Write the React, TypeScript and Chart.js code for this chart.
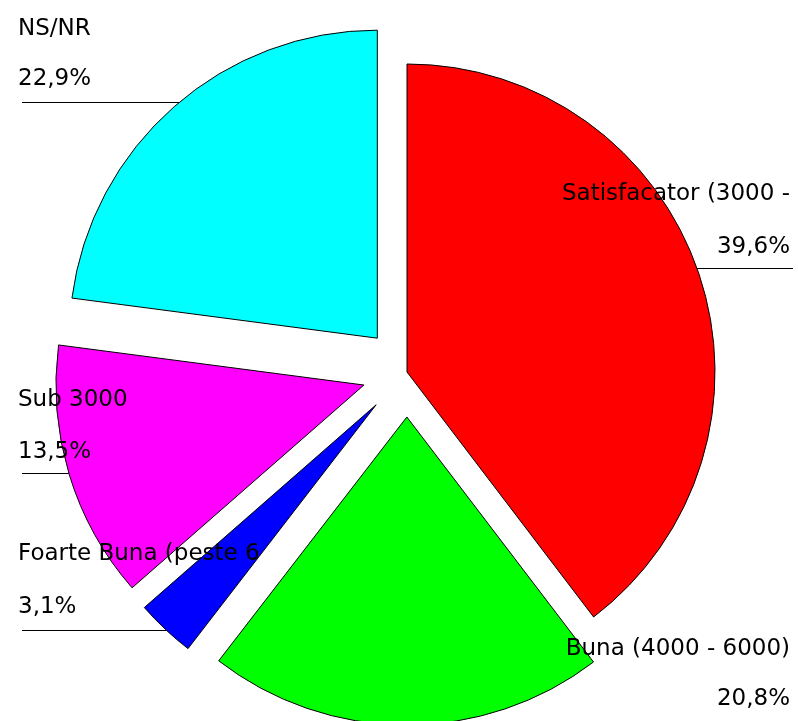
import { useEffect, useRef } from 'react';
import { Chart, registerables } from 'chart.js';

Chart.register(...registerables);

// ---- data ----
const categories = [
  'Satisfacator (3000 -',
  'Buna (4000 - 6000)',
  'Foarte Buna (peste 6',
  'Sub 3000',
  'NS/NR',
];
const shares = [39.6, 20.8, 3.1, 13.5, 22.9];

// ---- styles / layout ----
const sliceColors = ['#FF0000', '#00FF00', '#0000FF', '#FF00FF', '#00FFFF'];
const explodeDistance = [0, 45, 45, 45, 45];
const pieRadius = 308;
const labelLayout = [
  { side: 'right', x: 790, nameY: 200, pctY: 253, lineY: 268 },
  { side: 'right', x: 790, nameY: 655, pctY: 705, lineY: 722 },
  { side: 'left', x: 18, nameY: 560, pctY: 613, lineY: 630 },
  { side: 'left', x: 18, nameY: 406, pctY: 458, lineY: 473 },
  { side: 'left', x: 18, nameY: 35, pctY: 85, lineY: 102 },
];
const FONT = '23px "DejaVu Sans", Verdana, sans-serif';

const fmtPct = (v: number) => v.toFixed(1).replace('.', ',') + '%';

const explodePlugin = {
  id: 'explodeSlices',
  afterDatasetUpdate(chart: any, args: any) {
    const meta = args.meta;
    meta.data.forEach((el: any, i: number) => {
      const d = explodeDistance[i] || 0;
      const mid = (el.startAngle + el.endAngle) / 2;
      el.x += Math.cos(mid) * d;
      el.y += Math.sin(mid) * d;
    });
  },
};

const labelPlugin = {
  id: 'sliceLabels',
  afterDatasetsDraw(chart: any) {
    const ctx = chart.ctx;
    const meta = chart.getDatasetMeta(0);
    ctx.save();
    ctx.font = FONT;
    ctx.fillStyle = '#000';
    ctx.textBaseline = 'alphabetic';
    meta.data.forEach((el: any, i: number) => {
      const lay = labelLayout[i];
      if (!lay) return;
      const R = el.outerRadius;
      const dy = lay.lineY - el.y;
      let edgeX: number;
      if (Math.abs(dy) < R) {
        const dx = Math.sqrt(R * R - dy * dy);
        edgeX = lay.side === 'left' ? el.x - dx : el.x + dx;
      } else {
        edgeX = el.x;
      }
      ctx.strokeStyle = '#000';
      ctx.lineWidth = 1;
      ctx.beginPath();
      if (lay.side === 'left') {
        ctx.moveTo(lay.x + 4, lay.lineY + 0.5);
        ctx.lineTo(edgeX, lay.lineY + 0.5);
      } else {
        ctx.moveTo(edgeX, lay.lineY + 0.5);
        ctx.lineTo(lay.x + 3, lay.lineY + 0.5);
      }
      ctx.stroke();
      ctx.textAlign = lay.side === 'left' ? 'left' : 'right';
      ctx.fillText(chart.data.labels[i], lay.x, lay.nameY);
      ctx.fillText(fmtPct(chart.data.datasets[0].data[i]), lay.x, lay.pctY);
    });
    ctx.restore();
  },
};

export default function App() {
  const canvasRef = useRef<HTMLCanvasElement | null>(null);

  useEffect(() => {
    if (!canvasRef.current) return;
    const chart = new Chart(canvasRef.current, {
      type: 'pie',
      data: {
        labels: categories,
        datasets: [
          {
            data: shares,
            backgroundColor: sliceColors,
            borderColor: '#000000',
            borderWidth: 1,
            clip: false,
          } as any,
        ],
      },
      options: {
        animation: false,
        responsive: true,
        maintainAspectRatio: false,
        radius: pieRadius,
        layout: { padding: { left: 16, top: 23, right: 0, bottom: 0 } },
        plugins: {
          legend: { display: false },
          tooltip: { enabled: false },
        },
        events: [],
      } as any,
      plugins: [explodePlugin, labelPlugin],
    });
    return () => chart.destroy();
  }, []);

  return (
    <div
      style={{
        position: 'fixed',
        left: 0,
        top: 0,
        width: 798,
        height: 721,
        background: '#ffffff',
      }}
    >
      <canvas ref={canvasRef} />
    </div>
  );
}
